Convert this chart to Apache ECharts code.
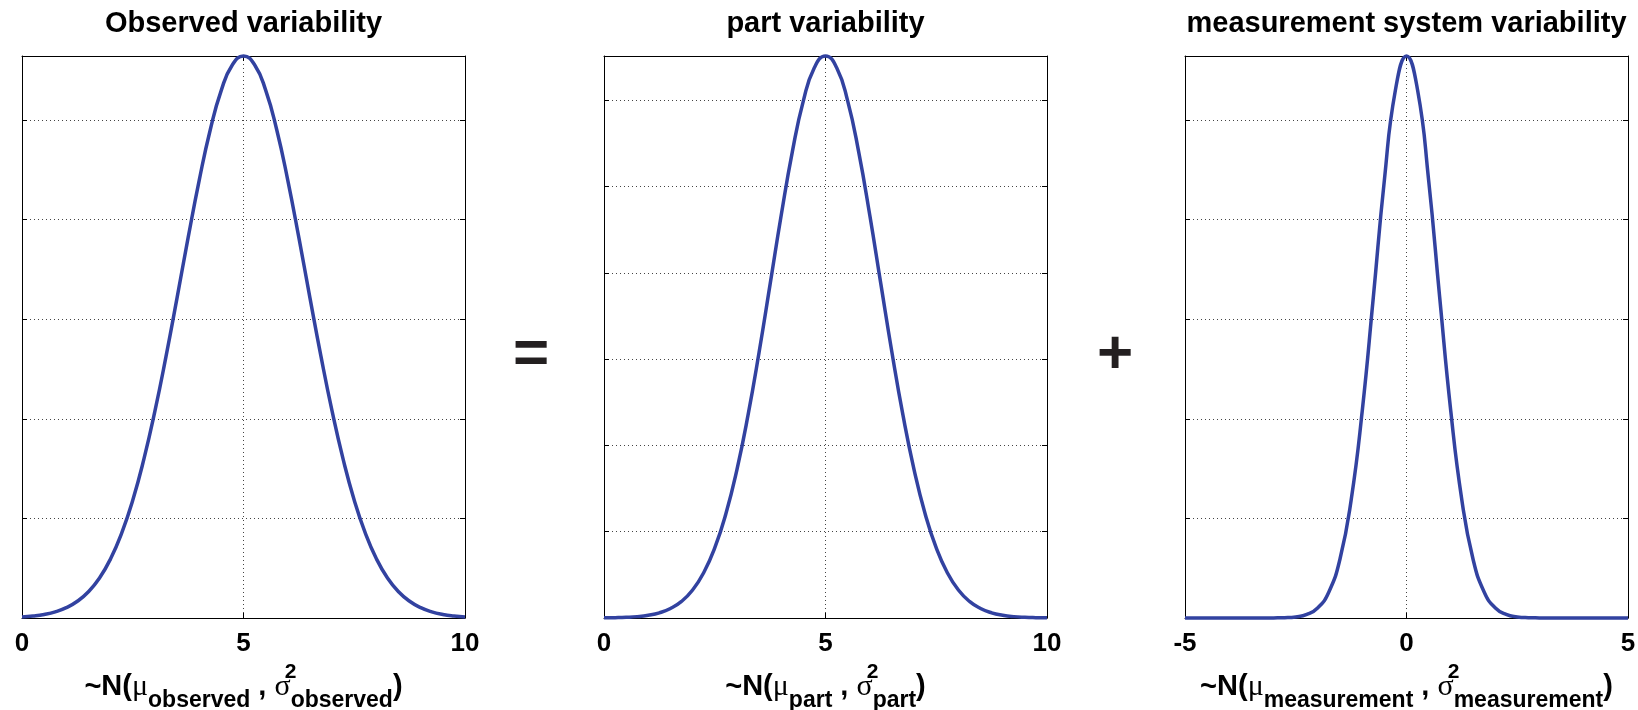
<!DOCTYPE html>
<html>
<head>
<meta charset="utf-8">
<title>Observed variability = part variability + measurement system variability</title>
<script src="https://cdn.jsdelivr.net/npm/echarts@6/dist/echarts.min.js"></script>
<style>
  html, body { margin: 0; padding: 0; background: #fff; }
  #chart { width: 1638px; height: 710px; }
</style>
</head>
<body>
<div id="chart"></div>
<script>
// panel texts
var panelTitles = ['Observed variability', 'part variability', 'measurement system variability'];
var nameSubscripts = ['observed', 'part', 'measurement'];
var signs = ['=', '+'];

// x sample positions
var xFrom0To10 = [0, 0.25, 0.5, 0.75, 1, 1.25, 1.5, 1.75, 2, 2.25, 2.5, 2.75, 3, 3.25, 3.5, 3.75, 4, 4.25, 4.5, 4.75,
                  5, 5.25, 5.5, 5.75, 6, 6.25, 6.5, 6.75, 7, 7.25, 7.5, 7.75, 8, 8.25, 8.5, 8.75, 9, 9.25, 9.5, 9.75, 10];
var xFromMinus5To5 = [-5, -4.75, -4.5, -4.25, -4, -3.75, -3.5, -3.25, -3, -2.75, -2.5, -2.25, -2, -1.75, -1.5, -1.25, -1, -0.75, -0.5, -0.25,
                      0, 0.25, 0.5, 0.75, 1, 1.25, 1.5, 1.75, 2, 2.25, 2.5, 2.75, 3, 3.25, 3.5, 3.75, 4, 4.25, 4.5, 4.75, 5];

// curve heights
var observedDensity = [0.0005, 0.0010, 0.0018, 0.0031, 0.0052, 0.0084, 0.0132, 0.0201, 0.0297, 0.0426, 0.0591, 0.0796, 0.1038, 0.1312,
                       0.1607, 0.1909, 0.2197, 0.2451, 0.2650, 0.2777, 0.2821, 0.2777, 0.2650, 0.2451, 0.2197, 0.1909, 0.1607, 0.1312,
                       0.1038, 0.0796, 0.0591, 0.0426, 0.0297, 0.0201, 0.0132, 0.0084, 0.0052, 0.0031, 0.0018, 0.0010, 0.0005];
var partDensity = [0.0001, 0.0002, 0.0004, 0.0008, 0.0016, 0.0030, 0.0055, 0.0096, 0.0162, 0.0262, 0.0406, 0.0603, 0.0859, 0.1174,
                   0.1539, 0.1935, 0.2334, 0.2700, 0.2997, 0.3190, 0.3257, 0.3190, 0.2997, 0.2700, 0.2334, 0.1935, 0.1539, 0.1174,
                   0.0859, 0.0603, 0.0406, 0.0262, 0.0162, 0.0096, 0.0055, 0.0030, 0.0016, 0.0008, 0.0004, 0.0002, 0.0001];
var measurementDensity = [0, 0, 0, 0, 0, 0, 0, 0, 0.0001, 0.0003, 0.0011, 0.0036, 0.0103, 0.0264, 0.0595, 0.1183, 0.2076, 0.3215, 0.4394, 0.5300,
                          0.5642, 0.5300, 0.4394, 0.3215, 0.2076, 0.1183, 0.0595, 0.0264, 0.0103, 0.0036, 0.0011, 0.0003, 0.0001, 0, 0, 0, 0, 0, 0, 0, 0];

// axes
var xMins = [0, 0, -5];
var xMaxs = [10, 10, 5];
var xSteps = [5, 5, 5];
var ySteps = [0.05, 0.05, 0.1];

var xs = [xFrom0To10, xFrom0To10, xFromMinus5To5];
var ys = [observedDensity, partDensity, measurementDensity];

var FONT = '"Liberation Sans", Arial, Helvetica, sans-serif';
var LINE_BLUE = '#3242a0';
var gridLeft = [22, 604, 1185];
var gridWidth = 443;
var gridTop = 56;
var gridHeight = 562;

var chart = echarts.init(document.getElementById('chart'));

var grids = [], xAxes = [], yAxes = [], series = [], graphics = [];

for (var i = 0; i < 3; i++) {
    var yMax = Math.max.apply(null, ys[i]);
    grids.push({ left: gridLeft[i], top: gridTop, width: gridWidth, height: gridHeight, show: false,
                 containLabel: false, outerBoundsMode: 'none' });

    var axisLine = { show: true, onZero: false, lineStyle: { color: '#000', width: 1 } };
    var tick = { show: true, inside: true, length: 5, lineStyle: { color: '#000', width: 1 } };
    var dotted = { show: true, lineStyle: { color: '#444', width: 1, type: [1, 3] } };

    xAxes.push({
        type: 'value', gridIndex: i, position: 'bottom',
        min: xMins[i], max: xMaxs[i], interval: xSteps[i],
        axisLine: axisLine, axisTick: tick, splitLine: dotted,
        axisLabel: { show: true, margin: 13, color: '#000', fontSize: 26, fontWeight: 'bold', fontFamily: FONT,
                     showMinLabel: true, showMaxLabel: true },
        name: '{m|~N(}{g|\u03bc}{s|' + nameSubscripts[i] + '}{m| , }{g|\u03c3}{p|2}{s|' + nameSubscripts[i] + '}{m|)}',
        nameLocation: 'middle',
        nameGap: 22,
        nameTextStyle: {
            rich: {
                m: { fontSize: 29, fontWeight: 'bold', fontFamily: FONT, color: '#000', lineHeight: 50 },
                g: { fontSize: 30, fontWeight: 'normal', fontFamily: '"Liberation Serif", serif', color: '#000', lineHeight: 50 },
                s: { fontSize: 23, fontWeight: 'bold', fontFamily: FONT, color: '#000', lineHeight: 31, verticalAlign: 'bottom' },
                p: { fontSize: 21, fontWeight: 'bold', fontFamily: FONT, color: '#000', lineHeight: 21, verticalAlign: 'top', width: 0 }
            }
        }
    });
    xAxes.push({
        type: 'value', gridIndex: i, position: 'top',
        min: xMins[i], max: xMaxs[i], interval: xSteps[i],
        axisLine: axisLine, axisTick: tick, axisLabel: { show: false }, splitLine: { show: false }
    });
    yAxes.push({
        type: 'value', gridIndex: i, position: 'left',
        min: 0, max: yMax, interval: ySteps[i],
        axisLine: axisLine, axisTick: tick, axisLabel: { show: false }, splitLine: dotted
    });
    yAxes.push({
        type: 'value', gridIndex: i, position: 'right',
        min: 0, max: yMax, interval: ySteps[i],
        axisLine: axisLine, axisTick: tick, axisLabel: { show: false }, splitLine: { show: false }
    });

    var pts = xs[i].map(function (x, k) { return [x, ys[i][k]]; });
    series.push({
        type: 'line', xAxisIndex: 2 * i, yAxisIndex: 2 * i,
        data: pts, showSymbol: false, symbol: 'none',
        smooth: 0.5, clip: false, z: 5,
        lineStyle: { color: LINE_BLUE, width: 3.5 }
    });

    graphics.push({
        type: 'text', z: 10,
        style: {
            text: panelTitles[i], x: gridLeft[i] + gridWidth / 2, y: 24,
            textAlign: 'center', textVerticalAlign: 'middle',
            font: 'bold 29px ' + FONT, fill: '#000'
        }
    });
}

// the = and + between panels
var signX = [531, 1115];
for (var j = 0; j < signs.length; j++) {
    graphics.push({
        type: 'text', z: 10,
        style: {
            text: signs[j], x: signX[j], y: 356,
            textAlign: 'center', textVerticalAlign: 'middle',
            font: 'bold 62px ' + FONT, fill: '#231f20'
        }
    });
}

chart.setOption({
    animation: false,
    backgroundColor: '#fff',
    grid: grids,
    xAxis: xAxes,
    yAxis: yAxes,
    series: series,
    graphic: graphics
});
</script>
</body>
</html>
